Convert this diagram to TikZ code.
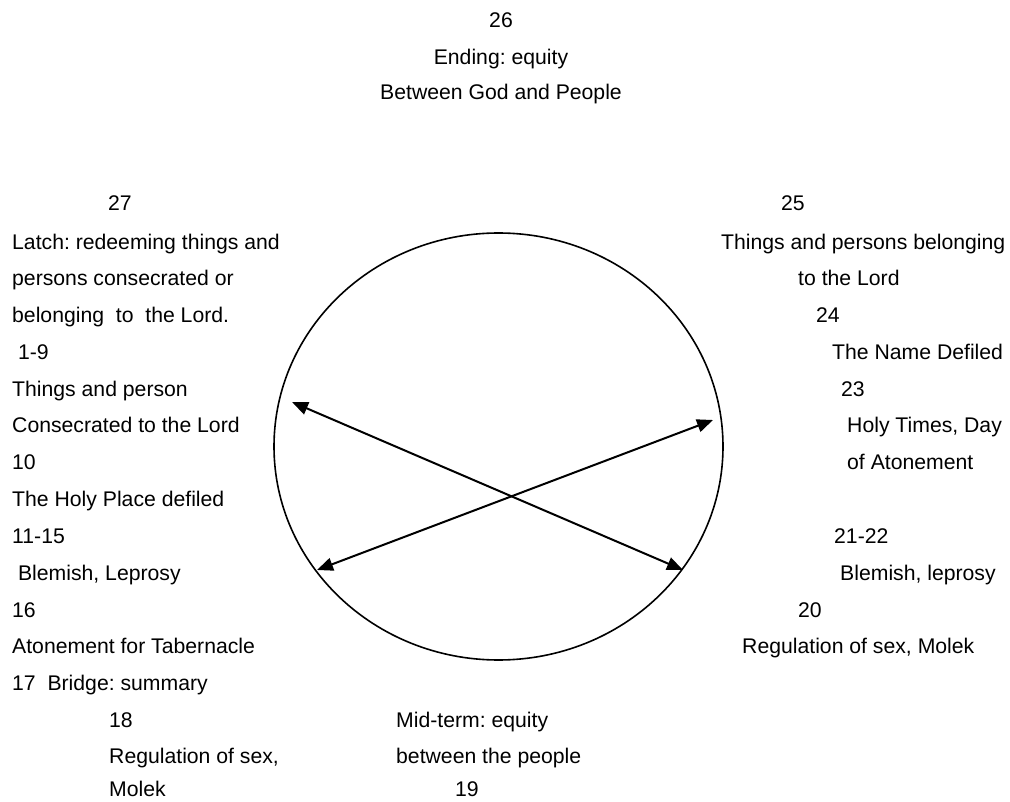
\documentclass[tikz,border=0pt]{standalone}
\usepackage{fontspec}
\setmainfont{Liberation Sans}
\usetikzlibrary{arrows.meta,shapes.geometric}
\frenchspacing
\tikzset{
  txt/.style={anchor=base west, inner sep=0pt, font=\fontsize{21.2}{25}\selectfont\frenchspacing},
  ctxt/.style={anchor=base, inner sep=0pt, font=\fontsize{21.2}{25}\selectfont\frenchspacing},
  ring/.style={draw=black, line width=1.6pt},
  dbl/.style={line width=2pt, {Triangle[length=16pt,width=13pt]}-{Triangle[length=16pt,width=13pt]}}
}
\begin{document}
\begin{tikzpicture}[x=1pt,y=-1pt]
\useasboundingbox (0,0) rectangle (1010,802);
% title
\node[ctxt] (t26) at (501,28) {26};
\node[ctxt] (tEnd) at (501,65) {Ending: equity};
\node[ctxt] (tBet) at (501,100) {Between God and People};
% circle
\node[ring, ellipse, minimum width=449pt, minimum height=427pt, inner sep=0pt] (circ) at (498.5,446.5) {};
% left column
\node[txt] (l27) at (108,211) {27};
\node[txt] (lLatch) at (12,249.5) {Latch: redeeming things and};
\node[txt] (lPers) at (12,286) {persons consecrated or};
\node[txt] (lBel) at (12,322.7) {belonging\ \ to\ \ the Lord.};
\node[txt] (l19) at (12,359.3) {\ 1-9};
\node[txt] (lThings) at (12,396) {Things and person};
\node[txt] (lCons) at (12,432.7) {Consecrated to the Lord};
\node[txt] (l10) at (12,469.3) {10};
\node[txt] (lHoly) at (12,506) {The Holy Place defiled};
\node[txt] (l1115) at (12,543) {11-15};
\node[txt] (lBlem) at (12,580) {\ Blemish, Leprosy};
\node[txt] (l16) at (12,617) {16};
\node[txt] (lAton) at (12,653) {Atonement for Tabernacle};
\node[txt] (l17) at (12,690) {17\ \ Bridge: summary};
\node[txt] (l18) at (109,727) {18};
\node[txt] (lReg) at (109,763) {Regulation of sex,};
\node[txt] (lMol) at (109,796) {Molek};
% middle bottom
\node[txt] (mMid) at (396,727) {Mid-term: equity};
\node[txt] (mBet) at (396,763) {between the people};
\node[txt] (m19) at (455,796) {19};
% right column
\node[txt] (r25) at (781,211) {25};
\node[txt] (rThings) at (721,249.5) {Things and persons belonging};
\node[txt] (rTo) at (798,286) {to the Lord};
\node[txt] (r24) at (816,322.7) {24};
\node[txt] (rName) at (832,359.3) {The Name Defiled};
\node[txt] (r23) at (841,396) {23};
\node[txt] (rHoly) at (847,432.7) {Holy Times, Day};
\node[txt] (rAton) at (847,469.3) {of Atonement};
\node[txt] (r2122) at (834,543) {21-22};
\node[txt] (rBlem) at (840,580) {Blemish, leprosy};
\node[txt] (r20) at (798,617) {20};
\node[txt] (rReg) at (742,653) {Regulation of sex, Molek};
% arrows
\coordinate (a1) at (292,402);
\coordinate (b1) at (683,570);
\coordinate (a2) at (317,570);
\coordinate (b2) at (713,420);
\draw[dbl] (a1) -- (b1);
\draw[dbl] (a2) -- (b2);
\end{tikzpicture}
\end{document}
